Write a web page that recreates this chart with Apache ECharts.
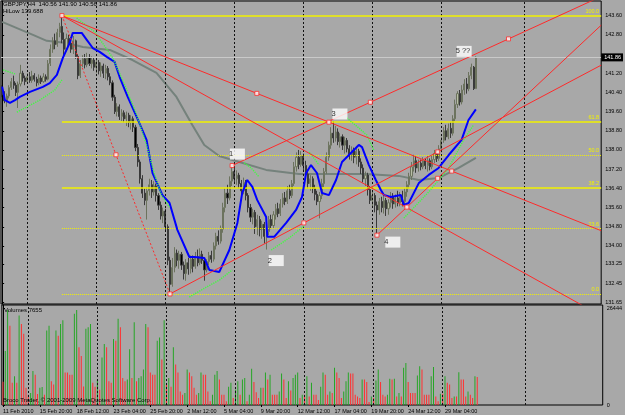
<!DOCTYPE html>
<html><head><meta charset="utf-8">
<script src="https://cdn.jsdelivr.net/npm/echarts@6/dist/echarts.min.js"></script>
<style>html,body{margin:0;padding:0;background:#a8a8a8}#c{width:625px;height:415px}</style>
</head><body><div id="c"></div><script>
// ---------------- data ----------------
const symbolName = 'GBPJPY,H4';
const hiLowValue = 139.688;
// [open, close, low, high]
const ohlc = [
[140.55,140.30,140.20,140.70],[140.30,140.05,139.95,140.45],[140.05,140.25,139.80,140.35],[140.25,140.60,140.15,140.70],
[140.60,140.85,140.50,141.00],[140.85,140.70,140.55,141.10],[140.70,140.40,140.25,140.80],[140.40,140.75,139.75,140.85],
[140.75,141.20,140.65,141.55],[141.20,141.00,140.85,141.30],[141.00,140.85,140.70,141.10],[140.85,141.05,140.75,141.20],
[141.05,140.90,140.80,141.25],[140.90,141.10,140.80,141.30],[141.10,140.95,140.85,141.20],[140.95,140.80,140.65,141.05],
[140.80,141.00,140.70,141.15],[141.00,140.85,140.75,141.10],[140.85,141.05,140.80,141.20],[141.05,140.95,140.85,141.15],
[140.95,141.60,140.90,141.75],[141.60,142.20,141.50,142.40],[142.20,142.55,142.05,142.70],[142.55,142.40,142.20,142.85],
[142.40,142.90,142.30,143.05],[142.90,143.15,142.70,143.30],[143.15,142.60,142.45,143.60],[142.60,142.20,141.95,142.90],
[142.20,142.65,142.10,142.85],[142.65,142.45,142.30,142.80],[142.45,142.20,142.05,142.70],[142.20,142.55,142.00,142.75],
[142.55,141.90,141.80,142.60],[141.90,141.10,140.95,142.00],[141.10,141.60,141.00,141.75],[141.60,141.80,141.45,141.95],
[141.80,141.55,141.40,142.00],[141.55,141.85,141.45,142.05],[141.85,141.60,141.50,142.00],[141.60,141.75,141.40,141.90],
[141.75,141.45,141.30,141.85],[141.45,141.65,141.20,141.80],[141.65,141.30,141.15,141.75],[141.30,141.50,141.05,141.65],
[141.50,141.20,141.00,141.60],[141.20,141.40,140.95,141.55],[141.40,141.05,140.90,141.50],[141.05,140.80,140.70,141.20],
[140.80,140.20,140.05,140.90],[140.20,139.60,139.50,140.30],[139.60,139.80,139.40,139.95],[139.80,139.40,139.25,139.90],
[139.40,139.55,139.20,139.70],[139.55,139.30,139.15,139.65],[139.30,139.45,139.00,139.60],[139.45,139.15,138.95,139.55],
[139.15,139.30,138.85,139.45],[139.30,138.95,138.75,139.40],[138.95,138.10,137.95,139.05],[138.10,137.50,137.30,138.25],
[137.50,136.80,136.60,137.60],[136.80,136.20,136.00,136.95],[136.20,135.90,135.70,136.40],[135.90,136.30,135.10,136.45],
[136.30,136.55,136.10,136.80],[136.55,136.25,136.00,136.75],[136.25,136.50,136.10,136.70],[136.50,136.10,135.85,136.60],
[136.10,135.70,135.50,136.20],[135.70,135.25,135.10,135.85],[135.25,135.45,134.95,135.60],[135.45,134.80,134.60,135.55],
[134.80,133.40,133.20,134.90],[133.40,132.40,132.00,133.55],[132.40,133.10,132.30,133.50],[133.10,133.70,132.90,133.95],
[133.70,133.40,133.15,133.85],[133.40,133.65,133.05,133.80],[133.65,133.20,133.00,133.75],[133.20,132.85,132.60,133.35],
[132.85,133.30,132.55,133.45],[133.30,133.05,132.80,133.50],[133.05,133.45,132.85,133.60],[133.45,133.15,132.90,133.60],
[133.15,133.55,133.05,133.75],[133.55,133.30,133.15,133.85],[133.30,133.65,133.20,133.90],[133.65,133.40,133.25,133.80],
[133.40,133.00,132.55,133.50],[133.00,133.35,132.90,133.45],[133.35,133.60,133.20,133.75],[133.60,133.45,133.30,133.80],
[133.45,134.00,133.35,134.15],[134.00,134.40,133.85,134.55],[134.40,134.20,134.05,134.65],[134.20,134.70,134.10,134.85],
[134.70,135.60,134.55,135.80],[135.60,136.20,135.40,136.40],[136.20,136.00,135.75,136.55],[136.00,136.70,135.90,136.90],
[136.70,137.10,136.50,137.35],[137.10,136.80,136.60,137.25],[136.80,136.95,136.55,137.15],[136.95,136.60,136.40,137.05],
[136.60,136.30,136.10,136.75],[136.30,136.65,136.15,136.85],[136.65,136.10,135.90,136.75],[136.10,135.60,135.40,136.20],
[135.60,135.20,135.00,135.75],[135.20,135.40,134.90,135.55],[135.40,134.80,134.50,135.50],[134.80,135.10,134.45,135.30],
[135.10,134.70,134.40,135.25],[134.70,134.90,134.30,135.05],[134.90,134.40,134.10,135.00],[134.40,134.60,133.85,134.70],
[134.60,135.10,134.45,135.25],[135.10,134.85,134.70,135.30],[134.85,135.30,134.75,135.45],[135.30,135.55,135.10,135.75],
[135.55,135.35,135.20,135.80],[135.35,135.75,135.25,135.95],[135.75,136.00,135.60,136.20],[136.00,135.85,135.70,136.25],
[135.85,136.30,135.75,136.50],[136.30,136.10,135.95,136.55],[136.10,136.60,136.00,136.75],[136.60,137.30,136.50,137.50],
[137.30,137.70,137.10,137.90],[137.70,137.40,137.20,138.00],[137.40,137.75,137.30,137.95],[137.75,137.35,137.10,137.85],
[137.35,137.00,136.80,137.55],[137.00,136.60,136.40,137.10],[136.60,136.80,136.30,136.95],[136.80,136.40,136.20,136.90],
[136.40,136.15,135.90,136.55],[136.15,135.85,135.70,136.30],[135.85,136.10,135.15,136.25],[136.10,136.60,135.95,136.80],
[136.60,137.10,136.45,137.25],[137.10,137.70,137.00,137.90],[137.70,138.20,137.55,138.35],[138.20,138.70,138.05,138.95],
[138.70,138.50,138.30,139.20],[138.50,138.75,138.35,139.00],[138.75,138.35,138.20,138.90],[138.35,138.55,138.10,138.70],
[138.55,138.20,138.00,138.65],[138.20,138.40,137.85,138.55],[138.40,138.05,137.90,138.50],[138.05,137.75,137.60,138.20],
[137.75,138.00,137.55,138.15],[138.00,137.70,137.45,138.10],[137.70,137.95,137.40,138.15],[137.95,137.50,137.30,138.05],
[137.50,137.25,137.00,137.65],[137.25,136.80,136.65,137.40],[136.80,136.95,136.50,137.10],[136.95,136.35,136.10,137.05],
[136.35,135.90,135.75,136.50],[135.90,136.10,135.60,136.25],[136.10,135.70,135.40,136.20],[135.70,135.50,134.45,135.85],
[135.50,135.85,135.30,136.00],[135.85,135.60,135.40,136.05],[135.60,135.90,135.35,136.10],[135.90,135.55,135.25,136.00],
[135.55,135.80,135.30,135.95],[135.80,136.05,135.60,136.25],[136.05,135.75,135.55,136.20],[135.75,136.00,135.60,136.15],
[136.00,135.80,135.65,136.30],[135.80,136.10,135.65,136.25],[136.10,135.85,135.65,136.30],[135.85,136.25,135.70,136.40],
[136.25,136.55,136.05,136.70],[136.55,136.90,136.40,137.05],[136.90,137.30,136.75,137.50],[137.30,137.55,137.10,137.80],
[137.55,137.25,137.05,137.75],[137.25,137.45,137.10,137.60],[137.45,137.30,137.15,137.60],[137.30,137.55,137.20,137.70],
[137.55,137.35,137.20,137.65],[137.35,137.55,137.10,137.75],[137.55,137.30,137.15,137.65],[137.30,137.60,137.20,137.75],
[137.60,137.85,137.45,138.00],[137.85,137.65,137.50,138.00],[137.65,138.05,137.55,138.20],[138.05,138.40,137.90,138.55],
[138.40,138.80,138.30,138.95],[138.80,138.55,138.40,139.05],[138.55,138.90,138.45,139.10],[138.90,138.70,138.50,139.15],
[138.70,139.30,138.60,139.45],[139.30,139.90,139.20,140.10],[139.90,140.35,139.75,140.45],[140.35,140.00,139.85,140.50],
[140.00,140.50,139.90,140.70],[140.50,140.75,140.30,140.95],[140.75,140.55,140.35,141.00],[140.55,141.10,140.45,141.25],
[141.10,141.45,140.95,141.60],[141.45,140.56,140.50,141.50],[140.56,141.86,140.56,141.90]
];
const volumes = [
6400,14800,26000,21700,6100,7900,6100,24500,22200,19500,4700,2800,3300,9300,8300,3000,4700,4900,2800,20400,
21700,6500,5600,20400,19000,22200,23200,8900,8900,8300,8300,25000,26000,15800,13400,5100,20900,21300,22200,6100,
5000,6900,4200,13000,16700,15800,6500,6100,18100,17600,23600,21300,7400,6500,7000,15300,7400,22700,6500,7400,
7900,9700,22200,21300,8900,8300,8300,17600,18500,12500,23200,5600,7400,5000,15800,11100,8900,3700,2800,3300,
9700,8900,7900,4700,2800,3300,8900,8300,8300,3700,1000,2800,8300,9300,7000,2800,2800,1000,5000,6100,
1900,4200,6500,2800,7000,7400,1000,2800,9900,6300,3500,1900,4700,4700,8900,7000,8300,2800,2800,2800,
3700,8600,7000,1900,6500,4000,7400,8300,8900,1900,2800,2800,7900,2300,6100,2800,2800,1400,5000,8900,
8300,2800,3700,3300,10200,8900,7400,1900,3700,6500,8900,8600,8600,2800,2300,1900,7000,7000,6300,800,
2300,1900,6700,9700,6300,2800,2300,2800,7200,7000,7200,2300,3300,2300,10200,11500,6300,3300,3300,3300,
8100,10600,9700,2800,2800,2800,7900,10400,2300,1000,3100,3100,7900,6100,5600,1900,2300,2300,9000,7000,
7000,2300,3700,2800,1900,7900,7655
];
// blue HiLow line vertices [barIndex, price]
const hiLowLine = [[0,140.64],[1.2,140.08],[3.4,139.96],[5.6,140.08],[7.7,140.21],[12.1,140.42],[17.7,140.63],[20.7,140.79],
[23.8,141.13],[26.4,141.84],[29.4,142.47],[30.7,142.88],[34.6,142.88],[36.8,142.59],[39.4,142.25],[42.4,142.09],[45.5,141.88],
[48.9,141.67],[51.1,141.04],[54.6,140.21],[58.5,139.38],[62.8,138.42],[65.4,137.04],[69.7,136.12],[72.8,135.79],[76.2,134.67],
[81.4,133.54],[83.6,133.54],[87.9,133.50],[90.1,133.00],[94.4,132.91],[98.8,133.83],[102.3,134.96],[104.4,136.21],[106.6,136.75],
[108.8,136.46],[110.9,135.92],[114.8,135.21],[115.3,134.38],[118.3,134.38],[123.5,134.96],[127.8,135.50],[130.4,136.04],
[132.2,137.04],[134.3,137.37],[136.9,137.04],[139.1,136.21],[142.1,136.12],[145.2,136.75],[147.8,137.50],[150.8,137.79],
[155.1,138.21],[156.5,138.12],[159.5,137.37],[162.5,136.75],[164.7,136.33],[166.0,136.12],[169.0,136.04],[173.4,136.12],
[174.7,135.71],[176.8,135.79],[181.2,136.62],[185.5,136.96],[189.8,137.25],[194.2,137.79],[199.8,138.42],[202.8,139.25],[206,139.69]];
// grey slow moving average vertices
const slowMA = [[0,143.34],[13.4,142.80],[19.4,142.55],[28.1,142.46],[35.1,142.29],[46.8,142.17],[56.7,141.75],[67.1,141.21],
[75.8,140.21],[82.7,139.04],[87.9,138.21],[94.4,137.75],[103.1,137.50],[114.8,137.17],[129.1,137.00],[143.4,137.00],[158.2,137.00],
[172.5,136.92],[181.2,136.75],[189.8,136.83],[198.5,137.25],[206,137.67]];
// parabolic SAR runs
const sarRuns = [
[[0.4,141.34],[5.6,141.17]],
[[6.4,139.58],[16.4,140.08],[22.9,140.50],[26.0,140.92]],
[[32.4,143.50],[40.3,142.92],[48.1,141.84],[53.3,140.71],[58.5,139.46],[62.8,138.21],[66.3,136.96],[69.3,136.12],[72.8,135.62]],
[[81.4,131.87],[88,132.24],[94.5,132.58],[100.1,133.00]],
[[105.3,137.46],[108.3,137.25],[111.8,136.87]],
[[117,133.83],[124.8,134.33],[131.3,134.83]],
[[133.5,137.92],[137.8,137.38]],
[[149.9,139.33],[155.1,138.92],[158.6,138.62],[161.6,138.00]],
[[174.7,135.16],[185.5,136.25],[194.2,137.25],[200.7,138.42],[205,139.04]]
];
const fibHigh = [26, 143.60];
const fibLow = [73, 132.00];
const fibRatios = [0, 23.6, 38.2, 50, 61.8, 100];
// trend lines (anchor points), drawn as rays to the right
const trendLines = [
[[26,143.60],[195.5,137.12]],
[[26,143.60],[250.5,131.62]],
[[73,132.00],[189.4,137.92]],
[[100,137.35],[220.2,142.63]],
[[163,134.45],[215.8,139.19]]
];
const handlePts = [[26,143.6],[49.5,137.8],[73,132.0],[110.75,140.36],[195.5,137.12],[142.1,139.16],[100,137.35],[160.1,139.99],
[220.2,142.63],[131.2,134.96],[189.4,137.92],[163,134.45],[189.4,136.82],[176,135.62]];
const waveText = ['1','2','3','4','5 ??'];
const waveX = [102.3,119.2,146.9,169.9,200.9];
const waveY = [137.83,133.39,139.50,134.16,142.11];
const priceTicks = [143.60,142.80,141.20,140.40,139.60,138.80,138.00,137.20,136.40,135.60,134.80,134.00,133.25,132.45,131.65];
const volTicks = [0, 26444];
const dateIdx = [0,16,32,48,64,80,96,112,128,144,160,176,192];
const dateText = ['11 Feb 2010','15 Feb 20:00','18 Feb 12:00','23 Feb 04:00','25 Feb 20:00','2 Mar 12:00','5 Mar 04:00',
'9 Mar 20:00','12 Mar 12:00','17 Mar 04:00','19 Mar 20:00','24 Mar 12:00','29 Mar 04:00'];
const weekStarts = [11,41,71,101,131,161,191,227];

// ---------------- chart ----------------
const N = 261, EDGE = N - 0.5;
const cats = Array.from({length:N}, (_, i) => String(i));
const F = 'Liberation Sans, DejaVu Sans, sans-serif';
const last = ohlc[ohlc.length-1];
const RED = '#ff2a2a', YEL = '#f2f200';

const chart = echarts.init(document.getElementById('c'), null, {renderer:'canvas', width:625, height:415});

const series = [];
// weekly separators
series.push({type:'line', xAxisIndex:2, yAxisIndex:0, data:[], silent:true,
  markLine:{silent:true, symbol:['none','none'], animation:false, label:{show:false},
    lineStyle:{color:'#111', width:1, type:[2,2]}, data: weekStarts.map(w => ({xAxis:w}))}});
series.push({type:'line', xAxisIndex:3, yAxisIndex:1, data:[], silent:true,
  markLine:{silent:true, symbol:['none','none'], animation:false, label:{show:false},
    lineStyle:{color:'#111', width:1, type:[2,2]}, data: weekStarts.map(w => ({xAxis:w}))}});
// fib levels
const fibStyle = {0:[1,'dotted'], 23.6:[1,'dotted'], 38.2:[1.5,'solid'], 50:[1,'dotted'], 61.8:[1.5,'solid'], 100:[1.5,'solid']};
series.push({type:'line', xAxisIndex:2, yAxisIndex:0, data:[], silent:true, z:2,
  markLine:{silent:true, symbol:['none','none'], animation:false,
    data: fibRatios.map(r => {
      const lv = fibLow[1] + (fibHigh[1]-fibLow[1]) * r / 100;
      return [{coord:[fibHigh[0], lv], lineStyle:{color:YEL, width:fibStyle[r][0], type:fibStyle[r][1]},
               label:{show:true, position:'insideEndTop', distance:[2,1], formatter:r.toFixed(1), color:YEL, fontSize:5.5, fontFamily:F}},
              {coord:[EDGE, lv]}];
    })}});
// grey MA
series.push({type:'line', xAxisIndex:2, yAxisIndex:0, data:slowMA, symbol:'none', silent:true, z:3,
  lineStyle:{color:'#75827c', width:2}});
// candles
series.push({type:'candlestick', xAxisIndex:0, yAxisIndex:0, data:ohlc, barWidth:1.6, z:4,
  itemStyle:{color:'#b9bea8', color0:'#000000', borderColor:'#6c735e', borderColor0:'#3a3a3a', borderWidth:1},
  markLine:{silent:true, symbol:['none','none'], animation:false,
    data:[{yAxis:last[1]}],
    lineStyle:{color:'#c9c9c9', width:1, type:'solid'},
    label:{show:true, position:'end', distance:0, formatter:last[1].toFixed(2), color:'#fff', backgroundColor:'#000',
      fontSize:5.5, fontFamily:F, padding:[1,2,1,3]}}});
// HiLow blue
series.push({type:'line', xAxisIndex:2, yAxisIndex:0, data:hiLowLine, symbol:'none', silent:true, z:5,
  lineStyle:{color:'#0000ff', width:2}});
// SAR dots
sarRuns.forEach(run => series.push({type:'line', xAxisIndex:2, yAxisIndex:0, data:run, symbol:'none', silent:true, z:5,
  lineStyle:{color:'#3cff3c', width:1.4, type:[1.2,1.1]}}));
// fib diagonal
series.push({type:'line', xAxisIndex:2, yAxisIndex:0, data:[fibHigh, fibLow], symbol:'none', silent:true, z:6,
  lineStyle:{color:RED, width:1, type:[2,2]}});
// trend rays
trendLines.forEach(([a,b]) => {
  const k = (b[1]-a[1])/(b[0]-a[0]);
  series.push({type:'line', xAxisIndex:2, yAxisIndex:0, data:[a, [EDGE, a[1] + k*(EDGE-a[0])]], symbol:'none', silent:true, z:6,
    clip:true, lineStyle:{color:RED, width:1}});
});
// handles
series.push({type:'scatter', xAxisIndex:2, yAxisIndex:0, data:handlePts, symbol:'rect', symbolSize:4, silent:true, z:7,
  itemStyle:{color:'#ffffff', borderColor:RED, borderWidth:1}});
// wave labels
series.push({type:'scatter', xAxisIndex:2, yAxisIndex:0, silent:true, z:8,
  data: waveText.map((t,i) => ({value:[waveX[i], waveY[i]], name:t})),
  symbol:'rect', symbolSize:[15,11], itemStyle:{color:'#ffffff'},
  label:{show:true, position:'insideLeft', offset:[-6,0], formatter:p => p.name, color:'#000', fontSize:7.5, fontFamily:F}});
// volumes
series.push({type:'bar', xAxisIndex:1, yAxisIndex:1, barWidth:1, silent:true,
  data: volumes.map((v,i) => ({value:v, itemStyle:{color: (i>0 && v>volumes[i-1]) ? '#26a626' : '#ff3030'}}))});

const option = {
  animation:false,
  backgroundColor:'#a8a8a8',
  textStyle:{fontFamily:F},
  title:[
    {text:symbolName + '  ' + last[0].toFixed(2) + ' ' + last[3].toFixed(2) + ' ' + last[2].toFixed(2) + ' ' + last[1].toFixed(2),
     left:3, top:1, padding:0, textStyle:{fontSize:6, fontWeight:'normal', color:'#000', fontFamily:F}},
    {text:'HiLow ' + hiLowValue.toFixed(3), left:3, top:8, padding:0, textStyle:{fontSize:6, fontWeight:'normal', color:'#000', fontFamily:F}},
    {text:'Volumes ' + volumes[volumes.length-1], left:4, top:307, padding:0, textStyle:{fontSize:6, fontWeight:'normal', color:'#000', fontFamily:F}},
    {text:'Broco Trader, © 2001-2009 MetaQuotes Software Corp.', left:3, top:397, padding:0, textStyle:{fontSize:6, fontWeight:'normal', color:'#000', fontFamily:F}}
  ],
  grid:[
    {left:1, top:1, width:602, height:303, show:true, borderColor:'#000', borderWidth:1, backgroundColor:'transparent'},
    {left:1, top:305, width:602, height:100, show:true, borderColor:'#000', borderWidth:1, backgroundColor:'transparent'}
  ],
  xAxis:[
    {type:'category', gridIndex:0, data:cats, boundaryGap:true, show:false},
    {type:'category', gridIndex:1, data:cats, boundaryGap:true,
      axisLine:{show:false},
      axisTick:{show:true, alignWithLabel:true, length:2, interval:(i)=>dateIdx.includes(i), lineStyle:{color:'#000'}},
      axisLabel:{show:true, interval:(i)=>dateIdx.includes(i), formatter:(v,i)=>dateText[dateIdx.indexOf(Number(v))] || '',
        align:'left', fontSize:5.5, color:'#000', margin:3, fontFamily:F},
      splitLine:{show:false}},
    {type:'value', gridIndex:0, min:-0.5, max:EDGE, show:false},
    {type:'value', gridIndex:1, min:-0.5, max:EDGE, show:false}
  ],
  yAxis:[
    {type:'value', gridIndex:0, position:'right', min:131.58, max:144.21, scale:true,
      axisLine:{show:true, lineStyle:{color:'#000'}},
      axisTick:{show:true, customValues:priceTicks, length:2, lineStyle:{color:'#000'}},
      axisLabel:{show:true, customValues:priceTicks, formatter:v=>v.toFixed(2), fontSize:5.5, color:'#000', margin:4, fontFamily:F},
      splitLine:{show:false}},
    {type:'value', gridIndex:1, position:'right', min:0, max:27400,
      axisLine:{show:true, lineStyle:{color:'#000'}},
      axisTick:{show:true, customValues:volTicks, length:2, lineStyle:{color:'#000'}},
      axisLabel:{show:true, customValues:volTicks, formatter:v=>String(v), fontSize:5.5, color:'#000', margin:4, fontFamily:F},
      splitLine:{show:false}}
  ],
  series
};
chart.setOption(option);
</script></body></html>
